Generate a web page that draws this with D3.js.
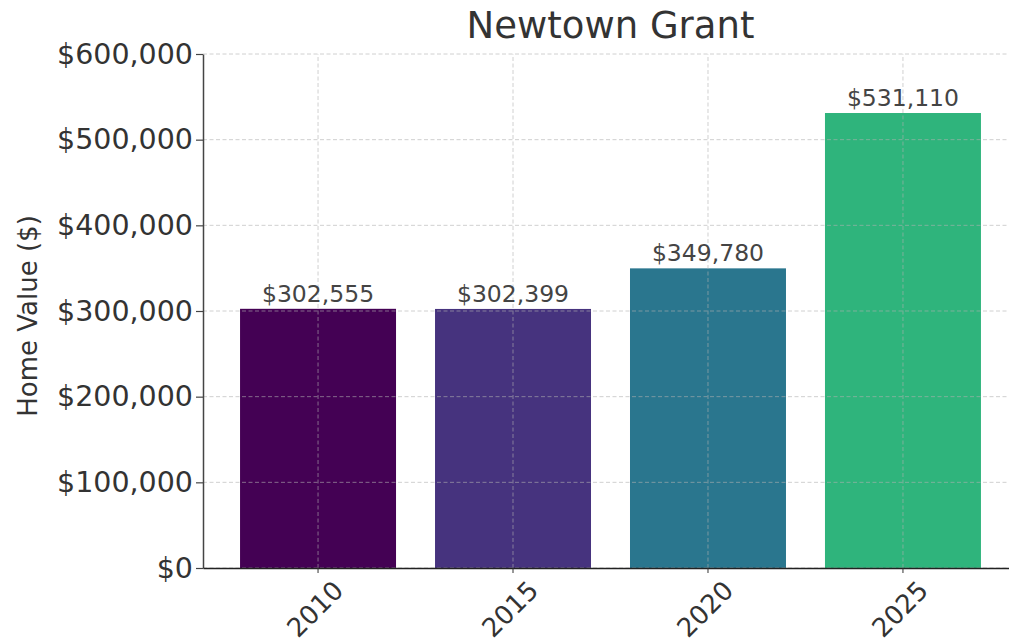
<!DOCTYPE html>
<html>
<head>
<meta charset="utf-8">
<script src="https://cdn.jsdelivr.net/npm/d3@7"></script>
<style>
  body { margin: 0; background: #fff; }
  svg { display: block; font-family: "DejaVu Sans", sans-serif; }
</style>
</head>
<body>
<script>
// data
const years = ["2010", "2015", "2020", "2025"];
const homeValues = [302555, 302399, 349780, 531110];
const barColors = ["#440154", "#46337e", "#2a768e", "#2fb47c"];
const yTicks = [0, 100000, 200000, 300000, 400000, 500000, 600000];

const width = 1009;
const height = 643;
const margin = { top: 54, right: -9, bottom: 75, left: 203 };

const svg = d3.select("body")
    .append("svg")
    .attr("width", width)
    .attr("height", height);

const x = d3.scaleBand()
    .domain(years)
    .range([margin.left, width - margin.right])
    .paddingInner(0.2)
    .paddingOuter(0.19);

const y = d3.scaleLinear()
    .domain([0, 600000])
    .range([height - margin.bottom, margin.top]);

const money = d => "$" + d3.format(",")(d);

// bars
svg.append("g")
    .selectAll("rect")
    .data(years)
    .join("rect")
    .attr("x", d => x(d))
    .attr("y", (d, i) => y(homeValues[i]))
    .attr("width", x.bandwidth())
    .attr("height", (d, i) => y(0) - y(homeValues[i]))
    .attr("fill", (d, i) => barColors[i]);

// grid on top of the bars, like matplotlib does
const grid = svg.append("g")
    .attr("stroke", "#b0b0b0")
    .attr("stroke-opacity", 0.6)
    .attr("stroke-width", 1)
    .attr("stroke-dasharray", "4,2.5");
grid.selectAll("line.h")
    .data(yTicks)
    .join("line")
    .attr("class", "h")
    .attr("x1", margin.left)
    .attr("x2", width - margin.right)
    .attr("y1", d => y(d))
    .attr("y2", d => y(d));
grid.selectAll("line.v")
    .data(years)
    .join("line")
    .attr("class", "v")
    .attr("x1", d => x(d) + x.bandwidth() / 2)
    .attr("x2", d => x(d) + x.bandwidth() / 2)
    .attr("y1", y(0))
    .attr("y2", y(600000));

// value labels
svg.append("g")
    .selectAll("text")
    .data(years)
    .join("text")
    .attr("x", d => x(d) + x.bandwidth() / 2)
    .attr("y", (d, i) => y(homeValues[i]) - 7)
    .attr("text-anchor", "middle")
    .attr("font-size", 23.5)
    .attr("fill", "#444")
    .text((d, i) => money(homeValues[i]));

// y axis
const yAxis = d3.axisLeft(y)
    .tickValues(yTicks)
    .tickFormat(money)
    .tickSize(7)
    .tickSizeOuter(0)
    .tickPadding(3);
svg.append("g")
    .attr("transform", `translate(${margin.left},0)`)
    .call(yAxis)
    .call(g => g.select(".domain").attr("stroke", "#444").attr("stroke-width", 1.5))
    .call(g => g.selectAll(".tick line").attr("stroke", "#444").attr("stroke-width", 1.2))
    .call(g => g.selectAll(".tick text")
        .attr("font-size", 28.5)
        .attr("font-family", "DejaVu Sans, sans-serif")
        .attr("fill", "#333"));

// x axis
const xAxis = d3.axisBottom(x)
    .tickSize(5)
    .tickSizeOuter(0);
svg.append("g")
    .attr("transform", `translate(0,${y(0)})`)
    .call(xAxis)
    .call(g => g.select(".domain").attr("stroke", "#222").attr("stroke-width", 1.5))
    .call(g => g.selectAll(".tick line").attr("stroke", "#333"))
    .call(g => g.selectAll(".tick text")
        .attr("font-size", 26)
        .attr("font-family", "DejaVu Sans, sans-serif")
        .attr("fill", "#333")
        .attr("text-anchor", "middle")
        .attr("y", 0)
        .attr("dy", "0.35em")
        .attr("transform", "translate(-3,41) rotate(-45)"));

// title
svg.append("text")
    .attr("x", (margin.left + width - margin.right) / 2)
    .attr("y", 38)
    .attr("text-anchor", "middle")
    .attr("font-size", 37)
    .attr("fill", "#333")
    .text("Newtown Grant");

// y label
svg.append("text")
    .attr("transform", `translate(37,${(y(0) + y(600000)) / 2 + 5}) rotate(-90)`)
    .attr("text-anchor", "middle")
    .attr("font-size", 26)
    .attr("fill", "#333")
    .text("Home Value ($)");
</script>
</body>
</html>
